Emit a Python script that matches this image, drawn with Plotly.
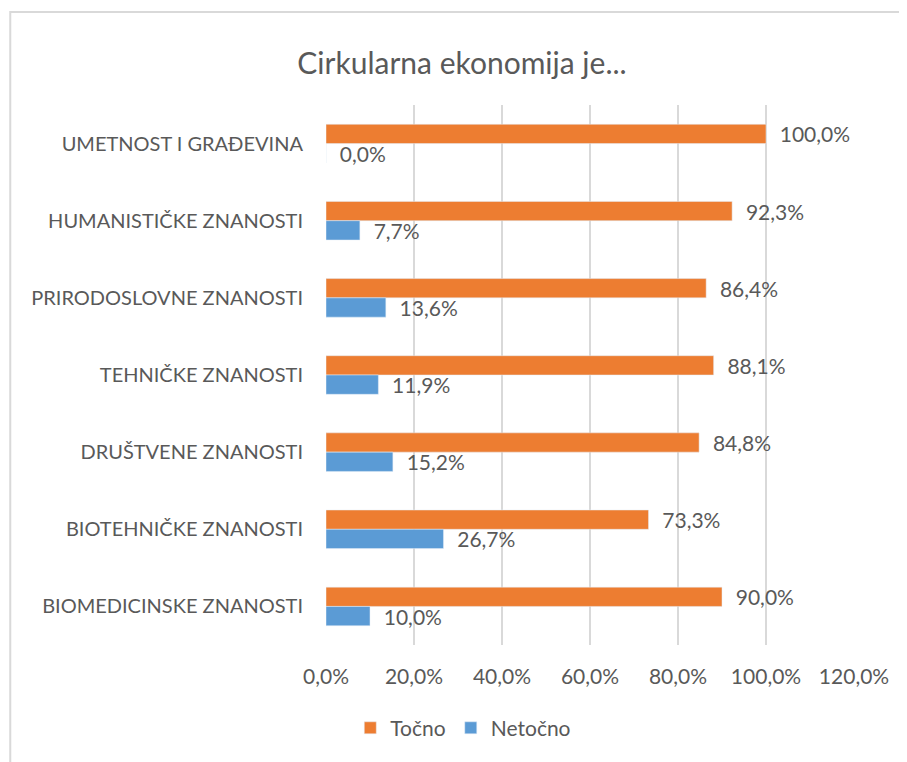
import plotly.graph_objects as go

categories = ['UMETNOST I GRAĐEVINA', 'HUMANISTIČKE ZNANOSTI', 'PRIRODOSLOVNE ZNANOSTI',
              'TEHNIČKE ZNANOSTI', 'DRUŠTVENE ZNANOSTI', 'BIOTEHNIČKE ZNANOSTI',
              'BIOMEDICINSKE ZNANOSTI']
tocno = [100.0, 92.3, 86.4, 88.1, 84.8, 73.3, 90.0]
netocno = [0.0, 7.7, 13.6, 11.9, 15.2, 26.7, 10.0]
tick_vals = [0, 20, 40, 60, 80, 100, 120]

FONT = 'Lato'
GREY = '#595959'


def labels(vals):
    return ['  ' + f'{v:.1f}'.replace('.', ',') + '%' for v in vals]


fig = go.Figure()

fig.add_trace(go.Bar(
    y=categories, x=tocno, name='Točno', orientation='h',
    marker=dict(color='#ED7D31'),
    text=labels(tocno), textposition='outside', constraintext='none',
    textfont=dict(color=GREY, size=21, family=FONT),
    cliponaxis=False
))

fig.add_trace(go.Bar(
    y=categories, x=netocno, name='Netočno', orientation='h',
    marker=dict(color='#5B9BD5'),
    text=labels(netocno), textposition='outside', constraintext='none',
    textfont=dict(color=GREY, size=21, family=FONT),
    cliponaxis=False
))

fig.update_layout(
    width=899, height=754,
    paper_bgcolor='white', plot_bgcolor='white',
    margin=dict(l=318, r=53, t=97, b=117),
    font=dict(family=FONT, color=GREY),
    title=dict(text='Cirkularna ekonomija je...', x=0.505, xanchor='center',
               y=0.926, yanchor='middle', font=dict(size=30, color=GREY, family=FONT)),
    barmode='group', bargap=0.5, bargroupgap=0,
    xaxis=dict(range=[0, 120], tickvals=tick_vals,
               ticktext=[f'{v:.1f}'.replace('.', ',') + '%' for v in tick_vals],
               showgrid=True, gridcolor='#D9D9D9', gridwidth=1.5,
               zeroline=False, showline=False, ticklabelstandoff=17,
               tickfont=dict(size=21, color=GREY, family=FONT)),
    yaxis=dict(autorange='reversed', showgrid=False, showline=False, zeroline=False,
               ticklabelstandoff=22, tickfont=dict(size=20, color=GREY, family=FONT)),
    legend=dict(orientation='h', x=0.26, xanchor='center', y=-0.154, yanchor='middle',
                font=dict(size=21, color=GREY, family=FONT), itemwidth=30,
                traceorder='normal'),
    shapes=[dict(type='rect', xref='paper', yref='paper',
                 x0=-0.598, x1=1.3, y0=-0.4, y1=1.172,
                 line=dict(color='#D9D9D9', width=2), layer='below')]
)

fig.write_html("out.html")
